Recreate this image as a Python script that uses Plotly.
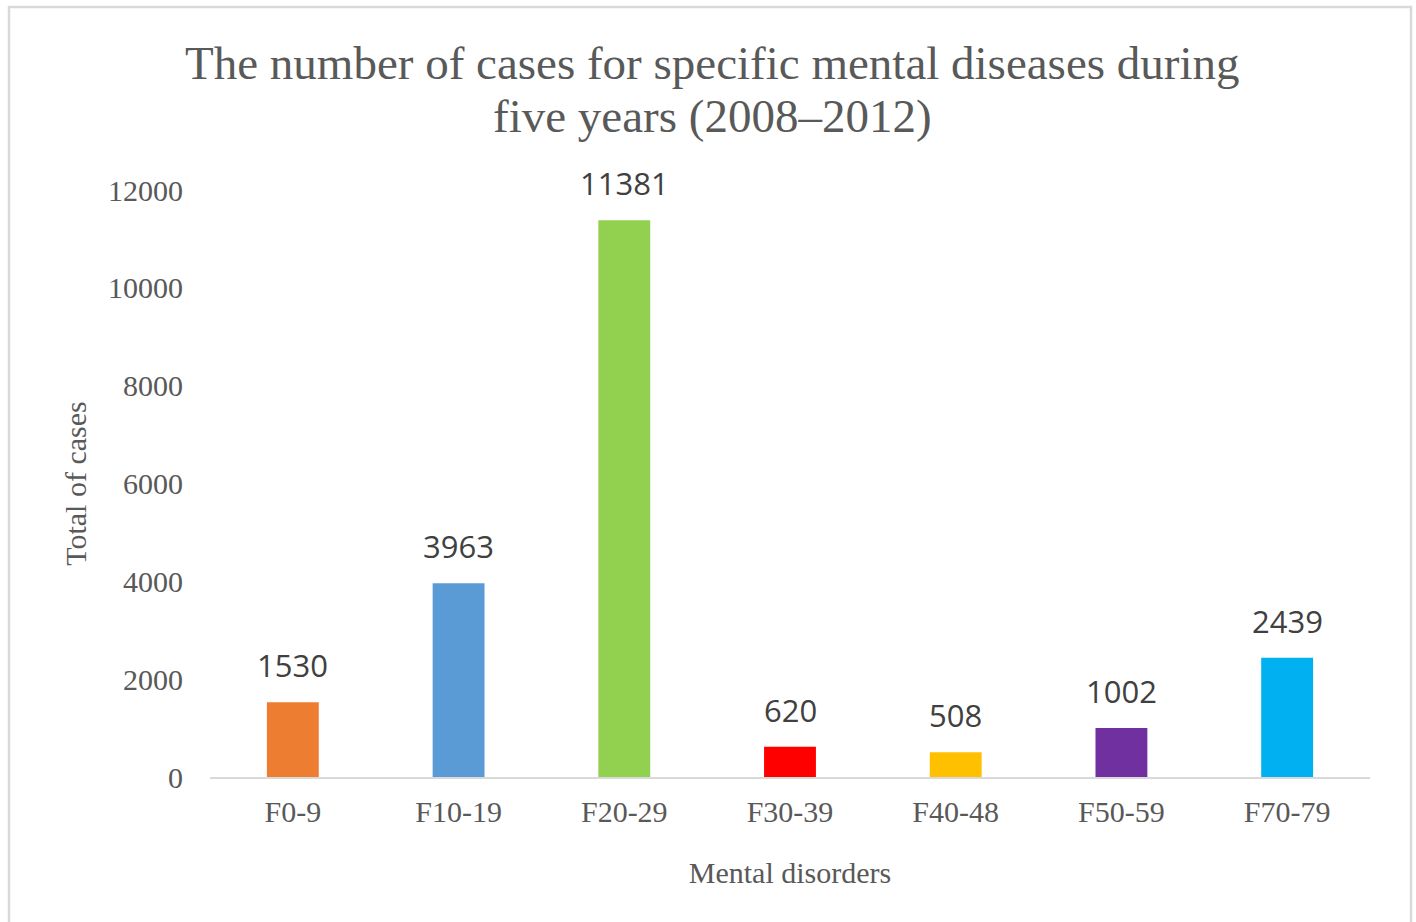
import plotly.graph_objects as go

categories = ["F0-9", "F10-19", "F20-29", "F30-39", "F40-48", "F50-59", "F70-79"]
cases = [1530, 3963, 11381, 620, 508, 1002, 2439]
colors = ["#ED7D31", "#5B9BD5", "#92D050", "#FF0000", "#FFC000", "#7030A0", "#00B0F0"]
y_ticks = [0, 2000, 4000, 6000, 8000, 10000, 12000]
title_lines = ["The number of cases for specific mental diseases during",
               "five years (2008–2012)"]

W, H = 1416, 922
L, R, T, B = 210, 46, 190, 145
pw, ph = W - L - R, H - T - B

text_col = "#595959"
serif = "Liberation Serif, Times New Roman, serif"

fig = go.Figure()
fig.add_trace(go.Bar(
    x=categories, y=cases,
    marker=dict(color=colors, line=dict(width=0)),
    hoverinfo="x+y",
))

for c, v in zip(categories, cases):
    fig.add_annotation(
        x=c, y=v, xref="x", yref="y", text=str(v), showarrow=False,
        yanchor="bottom", yshift=14,
        font=dict(family="Open Sans, sans-serif", size=31, color="#404040"),
    )

def px_x(p):
    return (p - L) / pw

def px_y(p):
    return (H - B - p) / ph

# title (two lines, tighter spacing as in the reference)
fig.add_annotation(
    x=px_x(712), y=px_y(63), xref="paper", yref="paper",
    text=title_lines[0], showarrow=False, xanchor="center", yanchor="middle",
    font=dict(family=serif, size=47, color=text_col),
)
fig.add_annotation(
    x=px_x(712), y=px_y(116), xref="paper", yref="paper",
    text=title_lines[1], showarrow=False, xanchor="center", yanchor="middle",
    font=dict(family=serif, size=47, color=text_col),
)

# outer chart border
fig.add_shape(type="rect", xref="paper", yref="paper",
              x0=px_x(9), x1=px_x(1411), y0=px_y(935), y1=px_y(7),
              line=dict(color="#D9D9D9", width=2.5), fillcolor="rgba(0,0,0,0)", layer="below")

fig.update_layout(
    width=W, height=H,
    margin=dict(l=L, r=R, t=T, b=B, pad=0),
    paper_bgcolor="white", plot_bgcolor="white",
    showlegend=False,
    bargap=0.687,
    font=dict(family=serif, color=text_col),
)

fig.update_xaxes(
    showline=True, linecolor="#D9D9D9", linewidth=2,
    showgrid=False, zeroline=False,
    ticks="outside", ticklen=7, tickcolor="rgba(0,0,0,0)",
    tickfont=dict(family=serif, size=30, color=text_col),
    title=dict(text="Mental disorders", standoff=35,
               font=dict(family=serif, size=30, color=text_col)),
)
fig.update_yaxes(
    range=[0, 12000], tickvals=y_ticks, ticktext=[str(t) for t in y_ticks],
    showline=False, showgrid=False, zeroline=False,
    ticks="outside", ticklen=20, tickcolor="rgba(0,0,0,0)",
    tickfont=dict(family=serif, size=30, color=text_col),
    title=dict(text="Total of cases", standoff=12,
               font=dict(family=serif, size=30, color=text_col)),
)

fig.write_html("out.html", config={"displayModeBar": False},
               post_script="document.body.style.margin='0';document.body.style.overflow='hidden';")
